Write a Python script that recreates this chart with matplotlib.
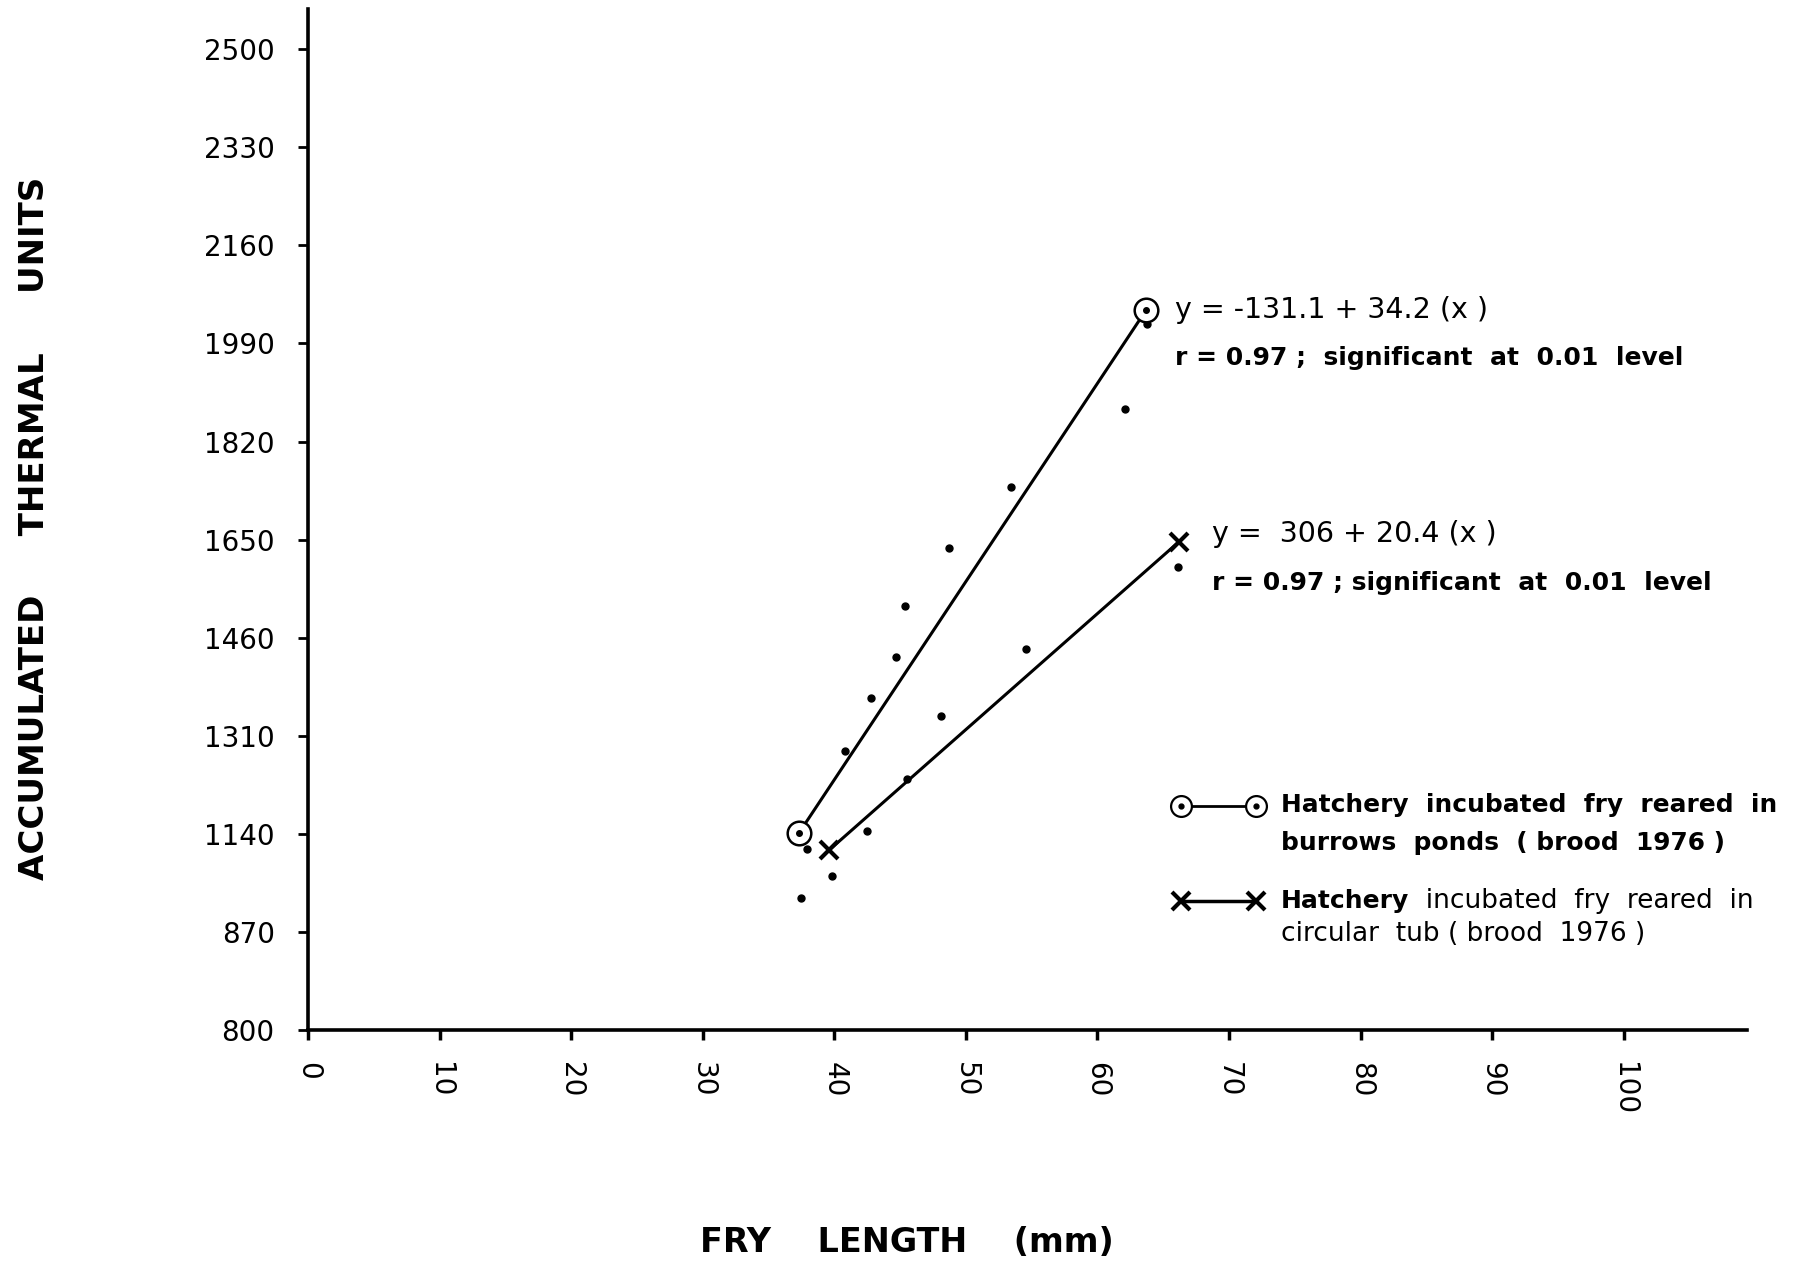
import numpy as np
import matplotlib
matplotlib.use("Agg")
import matplotlib.pyplot as plt

# ---------------- data ----------------
y_tick_values = [800, 870, 1140, 1310, 1460, 1650, 1820, 1990, 2160, 2330, 2500]
x_tick_values = [0, 10, 20, 30, 40, 50, 60, 70, 80, 90, 100]

# observed points (fry length mm, accumulated thermal units)
obs_x = [37.9, 37.5, 39.8, 40.8, 42.5, 42.8, 44.7, 45.4, 45.5, 48.1, 48.7, 53.4, 54.6, 62.1, 63.8, 66.1]
obs_y = [1099, 962, 1024, 1283, 1145, 1368, 1431, 1521, 1235, 1340, 1633, 1742, 1443, 1876, 2024, 1596]

# regression lines (end points)
ponds_x = [37.3, 63.7]
ponds_y = [1141, 2048]
tub_x = [39.6, 66.2]
tub_y = [1095, 1646]

eq_ponds = ["y = -131.1 + 34.2 (x )", "r = 0.97 ;  significant  at  0.01  level"]
eq_tub = ["y =  306 + 20.4 (x )", "r = 0.97 ; significant  at  0.01  level"]
legend_ponds = ["Hatchery  incubated  fry  reared  in", "burrows  ponds  ( brood  1976 )"]
legend_tub_bold = "Hatchery"
legend_tub = ["  incubated  fry  reared  in", "circular  tub ( brood  1976 )"]

# ---------------- scale: equally spaced non-linear y ticks ----------------
tv = np.array(y_tick_values, dtype=float)
tp = np.arange(len(tv), dtype=float)

def fwd(v):
    v = np.asarray(v, dtype=float)
    out = np.interp(v, tv, tp)
    out = np.where(v > tv[-1], tp[-1] + (v - tv[-1]) / (tv[-1] - tv[-2]), out)
    out = np.where(v < tv[0], (v - tv[0]) / (tv[1] - tv[0]), out)
    return out

def inv(p):
    p = np.asarray(p, dtype=float)
    out = np.interp(p, tp, tv)
    out = np.where(p > tp[-1], tv[-1] + (p - tp[-1]) * (tv[-1] - tv[-2]), out)
    out = np.where(p < tp[0], tv[0] + (p - tp[0]) * (tv[1] - tv[0]), out)
    return out

# ---------------- figure ----------------
fig = plt.figure(figsize=(17.93, 12.65), dpi=100)
ax = fig.add_axes([0.1718, 0.1858, 0.9746 - 0.1718, 0.9929 - 0.1858])
ax.set_yscale('function', functions=(fwd, inv))
ax.set_xlim(0, 109.4)
ax.set_ylim(800, float(inv(10.41)))

for s in ['top', 'right']:
    ax.spines[s].set_visible(False)
for s in ['left', 'bottom']:
    ax.spines[s].set_linewidth(2.6)

ax.set_yticks(y_tick_values)
ax.set_yticklabels([str(v) for v in y_tick_values])
ax.set_xticks(x_tick_values)
ax.set_xticklabels([str(v) for v in x_tick_values], rotation=-90)
ax.yaxis.set_minor_locator(matplotlib.ticker.NullLocator())
ax.tick_params(axis='y', direction='out', length=7, width=2, pad=17, labelsize=20)
ax.tick_params(axis='x', direction='out', length=7, width=2.5, pad=16, labelsize=20)

# regression lines with end markers
ax.plot(ponds_x, ponds_y, color='black', lw=2.2, zorder=3)
ax.plot(ponds_x, ponds_y, ls='none', marker='o', ms=17, mfc='white', mec='black', mew=1.8, zorder=4)
ax.plot(ponds_x, ponds_y, ls='none', marker='o', ms=4, color='black', zorder=5)
ax.plot(tub_x, tub_y, color='black', lw=2.2, zorder=3)
ax.plot(tub_x, tub_y, ls='none', marker='x', ms=13, mec='black', mew=3, zorder=4)

# observations
ax.plot(obs_x, obs_y, ls='none', marker='o', ms=5, color='black', zorder=2)

# equations
fig.text(0.6556, 0.755, eq_ponds[0], fontsize=20.5, va='center', ha='left')
fig.text(0.6556, 0.717, eq_ponds[1], fontsize=18, va='center', ha='left', weight='bold')
fig.text(0.676, 0.578, eq_tub[0], fontsize=20.5, va='center', ha='left')
fig.text(0.676, 0.539, eq_tub[1], fontsize=18, va='center', ha='left', weight='bold')

# legend (manual)
lx = [0.6588, 0.7003]
fig.add_artist(plt.Line2D(lx, [0.3626, 0.3626], color='black', lw=2, transform=fig.transFigure))
fig.add_artist(plt.Line2D(lx, [0.3626, 0.3626], ls='none', marker='o', ms=15, mfc='white', mec='black', mew=1.6, transform=fig.transFigure))
fig.add_artist(plt.Line2D(lx, [0.3626, 0.3626], ls='none', marker='o', ms=3.5, color='black', transform=fig.transFigure))
fig.text(0.7143, 0.3635, legend_ponds[0], fontsize=17.9, weight='bold', va='center', ha='left')
fig.text(0.7143, 0.3336, legend_ponds[1], fontsize=17.9, weight='bold', va='center', ha='left')

fig.add_artist(plt.Line2D(lx, [0.2875, 0.2875], color='black', lw=2.5, transform=fig.transFigure))
fig.add_artist(plt.Line2D(lx, [0.2875, 0.2875], ls='none', marker='x', ms=13, mec='black', mew=3, transform=fig.transFigure))
t1 = fig.text(0.7143, 0.2875, legend_tub_bold, fontsize=18, weight='bold', va='center', ha='left')
ax.annotate(legend_tub[0], xy=(1, 0.5), xycoords=t1, va='center', ha='left', fontsize=19)
fig.text(0.7143, 0.2613, legend_tub[1], fontsize=19, va='center', ha='left')

# axis titles
fig.text(0.019, 0.582, "ACCUMULATED     THERMAL     UNITS", rotation=90, fontsize=24.5,
         weight='bold', va='center', ha='center')
fig.text(0.506, 0.0174, "FRY    LENGTH    (mm)", fontsize=24, weight='bold', va='center', ha='center')

fig.savefig("out.png", dpi=100, facecolor='white')
